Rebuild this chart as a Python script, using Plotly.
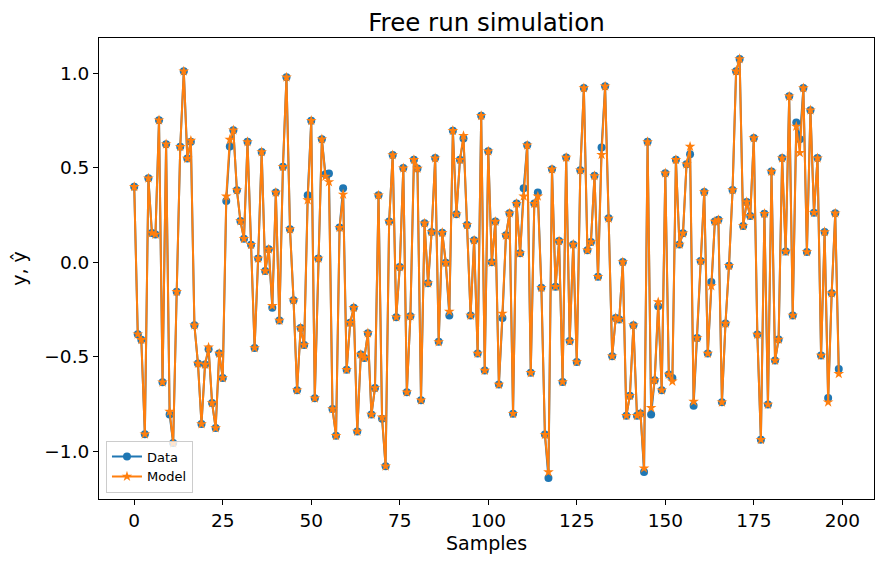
import plotly.graph_objects as go

# free run simulation: measured output vs model output
samples = list(range(200))

data_y = [
    0.40, -0.38, -0.41, -0.91, 0.445, 0.155, 0.148, 0.753, -0.635, 0.626,
    -0.806, -0.957, -0.156, 0.612, 1.012, 0.55, 0.638, -0.333, -0.536, -0.856,
    -0.541, -0.46, -0.745, -0.877, -0.483, -0.612, 0.325, 0.614, 0.70, 0.382,
    0.219, 0.125, 0.638, 0.093, -0.453, 0.021, 0.585, -0.046, 0.069, -0.24,
    0.37, -0.308, 0.506, 0.98, 0.175, -0.20, -0.677, -0.347, -0.438, 0.355,
    0.75, -0.72, 0.021, 0.652, 0.467, 0.47, -0.776, -0.918, 0.184, 0.392,
    -0.568, -0.32, -0.24, -0.895, -0.488, -0.506, -0.375, -0.806, -0.665, 0.355,
    -0.828, -1.08, 0.216, 0.568, -0.29, -0.025, 0.499, -0.688, -0.285, 0.543,
    0.497, -0.73, 0.207, -0.111, 0.161, 0.552, -0.421, 0.157, -0.002, -0.281,
    0.697, 0.255, 0.543, 0.656, 0.198, -0.281, 0.117, -0.483, 0.776, -0.573,
    0.588, 0.0, 0.216, -0.647, -0.294, 0.143, 0.26, -0.801, 0.311, 0.048,
    0.392, 0.62, -0.585, 0.311, 0.37, -0.134, -0.912, -1.142, 0.493, -0.129,
    0.113, -0.633, 0.555, -0.417, 0.095, -0.527, 0.488, 0.923, 0.064, 0.108,
    0.458, -0.076, 0.608, 0.932, 0.233, -0.497, -0.294, -0.302, 0.002, -0.812,
    -0.706, -0.333, -0.812, -0.80, -1.11, 0.638, -0.806, -0.624, -0.232, -0.677,
    0.472, -0.594, -0.612, 0.543, 0.095, 0.154, 0.52, 0.573, -0.759, -0.40,
    0.007, 0.373, -0.483, -0.104, 0.216, 0.225, -0.741, -0.324, -0.018, 0.383,
    1.012, 1.077, 0.193, 0.32, 0.246, 0.658, -0.382, -0.939, 0.258, -0.753,
    0.481, -0.52, -0.408, 0.552, 0.057, 0.879, -0.281, 0.741, 0.652, 0.923,
    0.055, 0.806, 0.263, 0.552, -0.493, 0.161, -0.718, -0.164, 0.26, -0.564,
]

model_y = [
    0.40, -0.38, -0.41, -0.91, 0.445, 0.155, 0.148, 0.753, -0.635, 0.626,
    -0.79, -0.957, -0.156, 0.612, 1.012, 0.55, 0.645, -0.333, -0.536, -0.856,
    -0.541, -0.45, -0.745, -0.877, -0.483, -0.612, 0.35, 0.65, 0.70, 0.382,
    0.219, 0.125, 0.638, 0.093, -0.453, 0.021, 0.585, -0.046, 0.069, -0.23,
    0.37, -0.308, 0.506, 0.98, 0.175, -0.20, -0.677, -0.347, -0.438, 0.33,
    0.75, -0.72, 0.021, 0.652, 0.455, 0.426, -0.776, -0.918, 0.184, 0.36,
    -0.568, -0.32, -0.24, -0.895, -0.488, -0.506, -0.375, -0.806, -0.665, 0.355,
    -0.82, -1.08, 0.216, 0.568, -0.29, -0.025, 0.499, -0.688, -0.285, 0.543,
    0.497, -0.73, 0.207, -0.111, 0.161, 0.552, -0.421, 0.157, -0.002, -0.26,
    0.697, 0.255, 0.543, 0.67, 0.198, -0.281, 0.117, -0.483, 0.776, -0.573,
    0.588, 0.0, 0.216, -0.647, -0.27, 0.143, 0.26, -0.801, 0.311, 0.048,
    0.35, 0.62, -0.585, 0.311, 0.35, -0.134, -0.912, -1.11, 0.493, -0.129,
    0.113, -0.633, 0.555, -0.417, 0.095, -0.527, 0.488, 0.923, 0.064, 0.108,
    0.458, -0.076, 0.57, 0.932, 0.233, -0.497, -0.294, -0.302, 0.002, -0.812,
    -0.706, -0.333, -0.812, -0.80, -1.09, 0.638, -0.77, -0.624, -0.21, -0.677,
    0.472, -0.594, -0.63, 0.543, 0.095, 0.154, 0.52, 0.613, -0.737, -0.40,
    0.007, 0.373, -0.483, -0.125, 0.216, 0.225, -0.741, -0.324, -0.018, 0.383,
    1.012, 1.077, 0.193, 0.32, 0.246, 0.658, -0.382, -0.939, 0.258, -0.753,
    0.481, -0.52, -0.408, 0.552, 0.057, 0.879, -0.281, 0.72, 0.58, 0.923,
    0.055, 0.806, 0.263, 0.552, -0.493, 0.161, -0.74, -0.164, 0.26, -0.59,
]

x_ticks = [0, 25, 50, 75, 100, 125, 150, 175, 200]
y_ticks = [-1.0, -0.5, 0.0, 0.5, 1.0]

# matplotlib-like 5% margins
xmin, xmax = min(samples), max(samples)
xpad = 0.05 * (xmax - xmin)
ally = data_y + model_y
ymin, ymax = min(ally), max(ally)
ypad = 0.05 * (ymax - ymin)

font = "DejaVu Sans"

fig = go.Figure()
fig.add_trace(go.Scatter(
    x=samples, y=data_y, mode="lines+markers", name="Data",
    line=dict(color="#1f77b4", width=2),
    marker=dict(symbol="circle", size=8, color="#1f77b4"),
))
fig.add_trace(go.Scatter(
    x=samples, y=model_y, mode="lines+markers", name="Model",
    line=dict(color="#ff7f0e", width=2),
    marker=dict(symbol="star", size=8, color="#ff7f0e"),
))

axis_common = dict(
    showline=True, linecolor="black", linewidth=1, mirror=True,
    ticks="outside", ticklen=5, tickwidth=1, tickcolor="black",
    showgrid=False, zeroline=False,
    tickfont=dict(family=font, size=18.5, color="black"),
)

# page body adds an 8px offset, so the figure is 8px smaller than the window
fig.update_layout(
    width=875, height=554,
    margin=dict(l=91, r=9, t=30, b=63),
    plot_bgcolor="white", paper_bgcolor="white",
    font=dict(family=font, color="black"),
    title=dict(text="Free run simulation", x=0.5, xref="paper", xanchor="center",
               y=1 - 14 / 554, yanchor="middle",
               font=dict(family=font, size=24.5, color="black")),
    xaxis=dict(range=[xmin - xpad, xmax + xpad], tickvals=x_ticks,
               title=dict(text="Samples", font=dict(family=font, size=19), standoff=6),
               **axis_common),
    yaxis=dict(range=[ymin - ypad, ymax + ypad], tickvals=y_ticks, tickformat=".1f",
               title=dict(text="y, ŷ", font=dict(family=font, size=19), standoff=12),
               **axis_common),
    legend=dict(x=0.009, y=0.014, xanchor="left", yanchor="bottom",
                bgcolor="rgba(255,255,255,0.8)", bordercolor="#cccccc", borderwidth=1,
                font=dict(family=font, size=13, color="black")),
    showlegend=True,
)

fig.write_html("out.html")
